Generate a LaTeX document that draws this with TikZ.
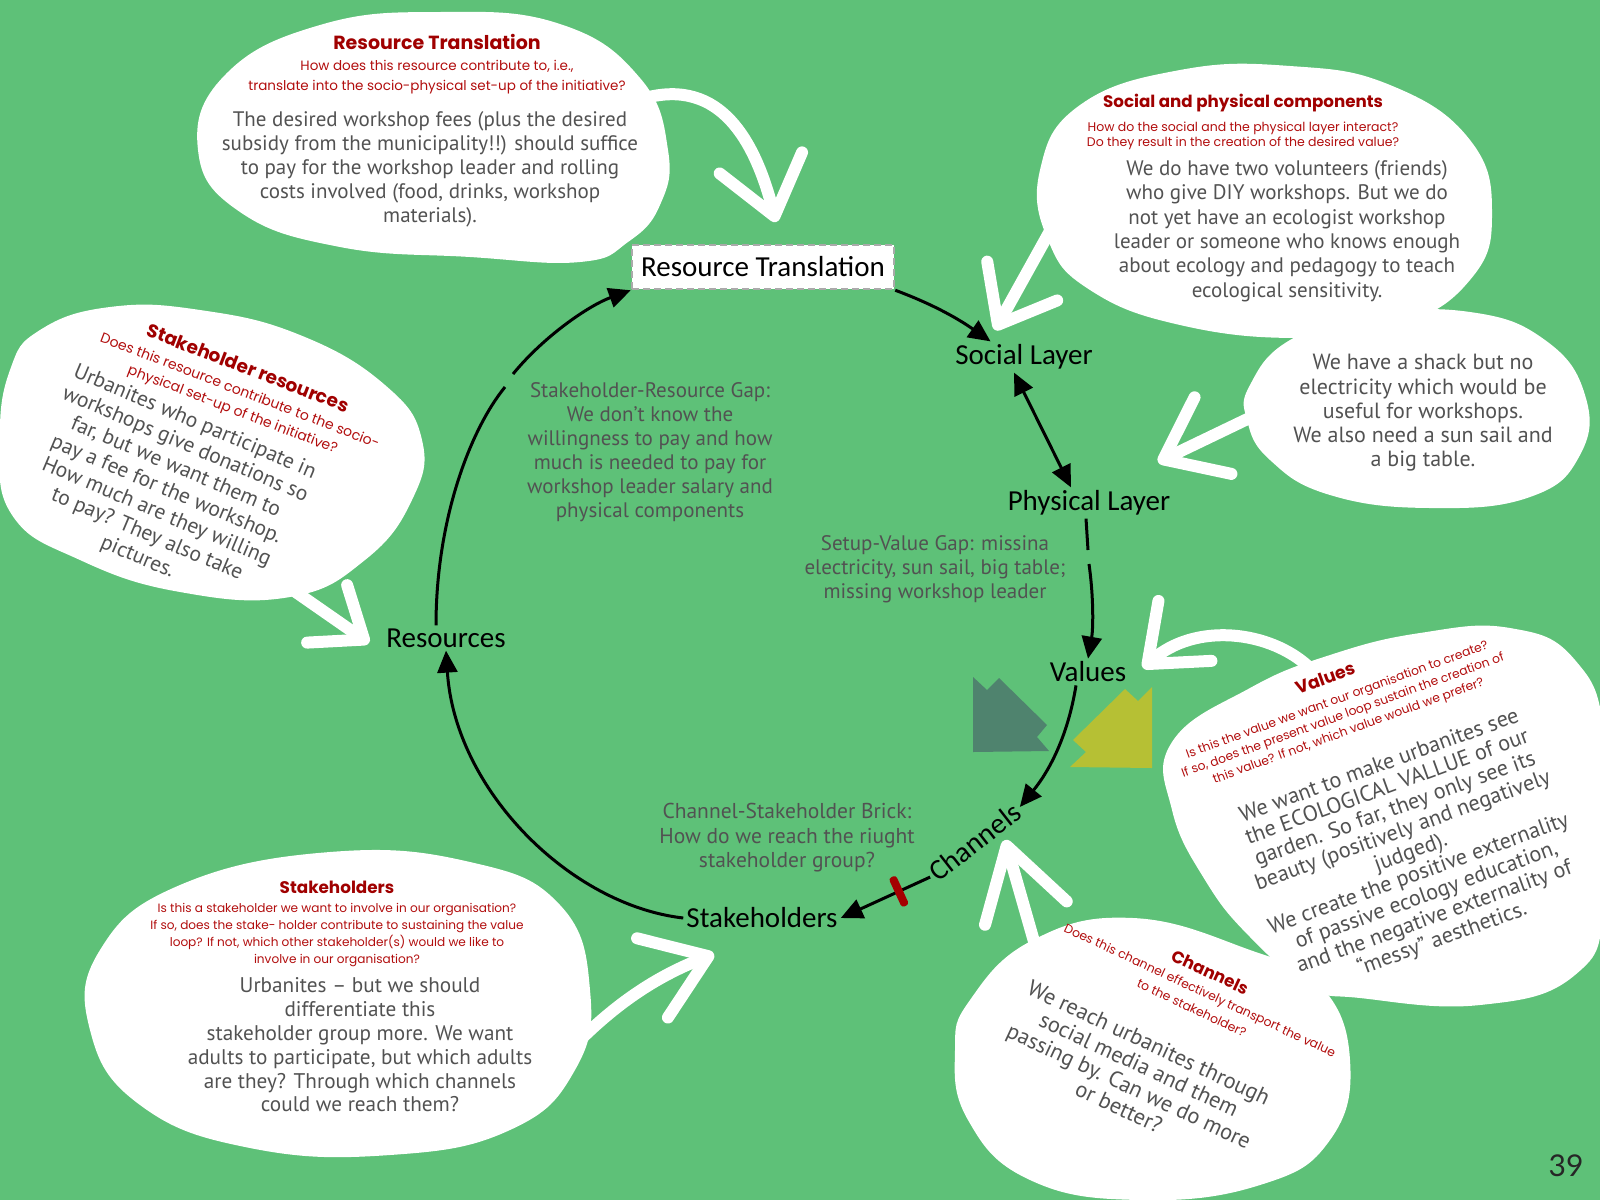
\documentclass[tikz,border=0pt]{standalone}
\usepackage{fontspec}
\setmainfont{PT Sans}
\newfontfamily\headfont{Poppins}
\newfontfamily\labelfont{Carlito}
\newfontfamily\numfont{Lato}
\usetikzlibrary{arrows.meta}

\definecolor{bg}{RGB}{94,193,120}
\definecolor{qred}{RGB}{178,14,14}
\definecolor{hred}{RGB}{160,0,0}
\definecolor{pen}{RGB}{82,82,82}
\definecolor{arrowteal}{RGB}{79,131,110}
\definecolor{arrowolive}{RGB}{182,192,52}
\definecolor{boxgray}{RGB}{170,170,170}
\definecolor{brickred}{RGB}{165,0,0}

\tikzset{
  handnote/.style={font=\fontsize{21}{24}\selectfont, text=pen, align=center, inner sep=0pt},
  qtext/.style={font=\headfont\fontsize{13.5}{20}\selectfont, text=qred, align=center, inner sep=0pt},
  htext/.style={font=\headfont\bfseries\fontsize{18.5}{20}\selectfont, text=hred, inner sep=0pt},
  ringlabel/.style={font=\labelfont\fontsize{29}{32}\selectfont, text=black, inner sep=3pt},
  rtbox/.style={ringlabel, fill=white, draw=boxgray, line width=2.5pt,
    dash pattern=on 7pt off 4pt, minimum width=262pt, minimum height=44pt},
  loopedge/.style={line width=3pt},
  whitearrow/.style={draw=white, line width=12pt, line cap=round, line join=round},
  brickmark/.style={fill=brickred, inner sep=0pt, minimum width=8pt,
    minimum height=32pt, rounded corners=3pt},
}

\begin{document}
\begin{tikzpicture}[x=1pt, y=-1pt, >={Triangle[length=22pt,width=20pt]}]
\useasboundingbox (0,0) rectangle (1600,1200);
\clip (0,0) rectangle (1600,1200);
\fill[bg] (0,0) rectangle (1600,1200);

% ---------- speech bubbles ----------
\fill[white] plot[smooth cycle, tension=0.75] coordinates {
  (440,12) (560,24) (640,78) (668,150) (660,205) (628,242) (580,262)
  (470,257) (340,247) (240,212) (198,150) (225,75) (320,25)};
\fill[white] plot[smooth cycle, tension=0.75] coordinates {
  (1040,170) (1080,105) (1180,70) (1290,66) (1390,85) (1470,140)
  (1492,215) (1470,280) (1400,325) (1300,338) (1180,325) (1090,290) (1048,240)};
\fill[white] plot[smooth cycle, tension=0.75] coordinates {
  (1250,385) (1290,340) (1370,315) (1470,312) (1545,340) (1585,395)
  (1580,455) (1530,497) (1430,508) (1330,495) (1270,460) (1247,420)};
\fill[white] plot[smooth cycle, tension=0.75] coordinates {
  (40,330) (110,307) (200,310) (300,335) (385,385) (422,440) (412,500)
  (365,560) (290,597) (180,592) (80,560) (12,515) (0,440) (10,370)};
\fill[white] plot[smooth cycle, tension=0.75] coordinates {
  (1172,742) (1250,688) (1330,655) (1420,633) (1510,628) (1575,660)
  (1605,740) (1605,900) (1575,975) (1480,1005) (1360,998) (1310,987)
  (1250,937) (1205,880) (1172,810)};
\fill[white] plot[smooth cycle, tension=0.75] coordinates {
  (970,1000) (1033,940) (1133,918) (1250,950) (1320,985) (1350,1060)
  (1330,1140) (1260,1185) (1140,1200) (1030,1180) (968,1120) (955,1050)};
\fill[white] plot[smooth cycle, tension=0.75] coordinates {
  (330,852) (470,862) (560,905) (590,990) (575,1070) (510,1130) (390,1155)
  (250,1148) (140,1105) (90,1030) (100,950) (180,885)};

% ---------- pointing arrows of the bubbles ----------
\coordinate (rtFrom) at (645,98);   \coordinate (rtTo) at (776,222);
\coordinate (spFrom) at (1055,222); \coordinate (spTo) at (995,330);
\coordinate (shFrom) at (1262,412); \coordinate (shTo) at (1158,462);
\coordinate (srFrom) at (290,588);  \coordinate (srTo) at (369,643);
\coordinate (vaFrom) at (1310,668); \coordinate (vaTo) at (1143,668);
\coordinate (chFrom) at (1035,945); \coordinate (chTo) at (1005,840);
\coordinate (stFrom) at (577,1043); \coordinate (stTo) at (714,954);

\draw[whitearrow, -{Straight Barb[round,length=55pt,width=85pt]}]
  (rtFrom) .. controls (720,78) and (755,140) .. (rtTo);
\draw[whitearrow, -{Straight Barb[round,length=50pt,width=80pt]}]
  (spFrom) -- (spTo);
\draw[whitearrow, -{Straight Barb[round,length=55pt,width=85pt]}]
  (shFrom) -- (shTo);
\draw[whitearrow, -{Straight Barb[round,length=45pt,width=70pt]}]
  (srFrom) -- (srTo);
\draw[whitearrow, -{Straight Barb[round,length=50pt,width=80pt]}]
  (vaFrom) .. controls (1270,630) and (1195,622) .. (vaTo);
\draw[whitearrow, -{Straight Barb[round,length=70pt,width=85pt]}]
  (chFrom) -- (chTo);
\draw[whitearrow, -{Straight Barb[round,length=60pt,width=85pt]}]
  (stFrom) .. controls (620,1000) and (660,975) .. (stTo);

% ---------- two facing arrow shapes ----------
\fill[arrowteal] (973,677) -- (987,690) -- (999,678) -- (1047,725)
  -- (1037,737) -- (1049,751) -- (973,752) -- cycle;
\fill[arrowolive] (1125,689) -- (1138,701) -- (1152,687) -- (1152,768)
  -- (1070,767) -- (1086,752) -- (1073,740) -- cycle;

% ---------- value loop ----------
\node[rtbox] (RT) at (763,267) {Resource Translation};
\node[ringlabel] (SL) at (1024,357) {Social Layer};
\node[ringlabel] (PL) at (1089,503) {Physical Layer};
\node[ringlabel] (VA) at (1088,672) {Values};
\node[ringlabel, rotate=38] (CH) at (975,842) {Channels};
\node[ringlabel] (SH) at (762,918) {Stakeholders};
\node[ringlabel] (RS) at (446,638) {Resources};

\coordinate (gapA1) at (505,387);
\coordinate (gapA2) at (513,374);
\coordinate (gapB1) at (1088,550);
\coordinate (gapB2) at (1089,564);

\draw[loopedge] ([xshift=-10pt]RS.north) .. controls (436,520) and (470,430) .. (gapA1);
\draw[loopedge, ->] (gapA2) .. controls (545,335) and (590,305) .. (RT.south west);
\draw[loopedge, ->] (RT.south east) .. controls (935,305) and (960,320) .. (SL.155);
\draw[loopedge, <->] ([xshift=-10pt]SL.south) -- ([xshift=-18pt]PL.north);
\draw[loopedge] ([xshift=-3pt]PL.south) -- (gapB1);
\draw[loopedge, ->] (gapB2) .. controls (1094,600) and (1093,630) .. (VA.north);
\draw[loopedge, ->] ([xshift=-12pt]VA.south) .. controls (1068,735) and (1050,770) .. (CH.east);
\draw[loopedge, ->] (CH.west) -- node[brickmark, sloped, pos=0.35] (brick) {} (SH.east);
\draw[loopedge, ->] (SH.west) .. controls (570,905) and (455,790) .. (RS.south);

% ---------- gap notes inside the loop ----------
\node[handnote] (gapSR) at (650,452) {Stakeholder-Resource Gap:\\We don't know the\\willingness to pay and how\\much is needed to pay for\\workshop leader salary and\\physical components};
\node[handnote, font=\fontsize{21}{24}\selectfont] (gapSV) at (935,569) {Setup-Value Gap: missina\\electricity, sun sail, big table;\\missing workshop leader};
\node[handnote, font=\fontsize{21.5}{24.5}\selectfont] (brickCS) at (787,838) {Channel-Stakeholder Brick:\\How do we reach the riught\\stakeholder group?};

% ---------- bubble: resource translation ----------
\node[htext, font=\headfont\bfseries\fontsize{19}{20}\selectfont] (rtHead) at (437,42) {Resource Translation};
\node[qtext] (rtAsk) at (437,77) {How does this resource contribute to, i.e.,\\translate into the socio-physical set-up of the initiative?};
\node[handnote] (rtNote) at (430,169) {The desired workshop fees (plus the desired\\subsidy from the municipality!!) should suffice\\to pay for the workshop leader and rolling\\costs involved (food, drinks, workshop\\materials).};

% ---------- bubble: social and physical components ----------
\node[htext, font=\headfont\bfseries\fontsize{16.7}{18}\selectfont] (spHead) at (1243,103) {Social and physical components};
\node[qtext, font=\headfont\fontsize{12.5}{15.5}\selectfont] (spAsk) at (1243,136) {How do the social and the physical layer interact?\\Do they result in the creation of the desired value?};
\node[handnote, font=\fontsize{21}{24.4}\selectfont] (spNote) at (1287,231) {We do have two volunteers (friends)\\who give DIY workshops. But we do\\not yet have an ecologist workshop\\leader or someone who knows enough\\about ecology and pedagogy to teach\\ecological sensitivity.};

% ---------- bubble: shack ----------
\node[handnote, font=\fontsize{22}{24.3}\selectfont] (shNote) at (1423,413) {We have a shack but no\\electricity which would be\\useful for workshops.\\We also need a sun sail and\\a big table.};

% ---------- bubble: stakeholder resources ----------
\node[htext, rotate=-21] (srHead) at (248,368) {Stakeholder resources};
\node[qtext, rotate=-21, font=\headfont\fontsize{14}{20}\selectfont] (srAsk) at (236,401) {Does this resource contribute to the socio-\\physical set-up of the initiative?};
\node[handnote, rotate=-23, font=\fontsize{21.5}{24.4}\selectfont] (srNote) at (166,490) {Urbanites who participate in\\workshops give donations so\\far, but we want them to\\pay a fee for the workshop.\\How much are they willing\\to pay? They also take\\pictures.};

% ---------- bubble: values ----------
\node[htext, font=\headfont\bfseries\fontsize{17.5}{20}\selectfont, rotate=20] (vaHead) at (1325,678) {Values};
\node[qtext, rotate=20, font=\headfont\fontsize{12.3}{16.5}\selectfont] (vaAsk) at (1343,716) {Is this the value we want our organisation to create?\\If so, does the present value loop sustain the creation of\\this value? If not, which value would we prefer?};
\node[handnote, rotate=20, font=\fontsize{22.2}{23}\selectfont] (vaNote) at (1411,853) {We want to make urbanites see\\the ECOLOGICAL VALLUE of our\\garden. So far, they only see its\\beauty (positively and negatively\\judged).\\We create the positive externality\\of passive ecology education,\\and the negative externality of\\“messy” aesthetics.};

% ---------- bubble: channels ----------
\node[htext, font=\headfont\bfseries\fontsize{16.8}{20}\selectfont, rotate=-25] (chHead) at (1210,972) {Channels};
\node[qtext, rotate=-25, font=\headfont\fontsize{12.4}{19.5}\selectfont] (chAsk) at (1196,999) {Does this channel effectively transport the value\\to the stakeholder?};
\node[handnote, rotate=-25, font=\fontsize{22.4}{23.7}\selectfont] (chNote) at (1134,1075) {We reach urbanites through\\social media and them\\passing by. Can we do more\\or better?};

% ---------- bubble: stakeholders ----------
\node[htext, font=\headfont\bfseries\fontsize{16.8}{20}\selectfont] (stHead) at (337,887) {Stakeholders};
\node[qtext, font=\headfont\fontsize{12.1}{17}\selectfont] (stAsk) at (337,935) {Is this a stakeholder we want to involve in our organisation?\\If so, does the stake- holder contribute to sustaining the value\\loop? If not, which other stakeholder(s) would we like to\\involve in our organisation?};
\node[handnote, font=\fontsize{21.2}{23.8}\selectfont] (stNote) at (360,1045) {Urbanites – but we should\\differentiate this\\stakeholder group more. We want\\adults to participate, but which adults\\are they? Through which channels\\could we reach them?};

% ---------- page number ----------
\node[font=\numfont\fontsize{30}{30}\selectfont, text=black!85, inner sep=0pt] (pageNo) at (1566,1166) {39};
\end{tikzpicture}
\end{document}
